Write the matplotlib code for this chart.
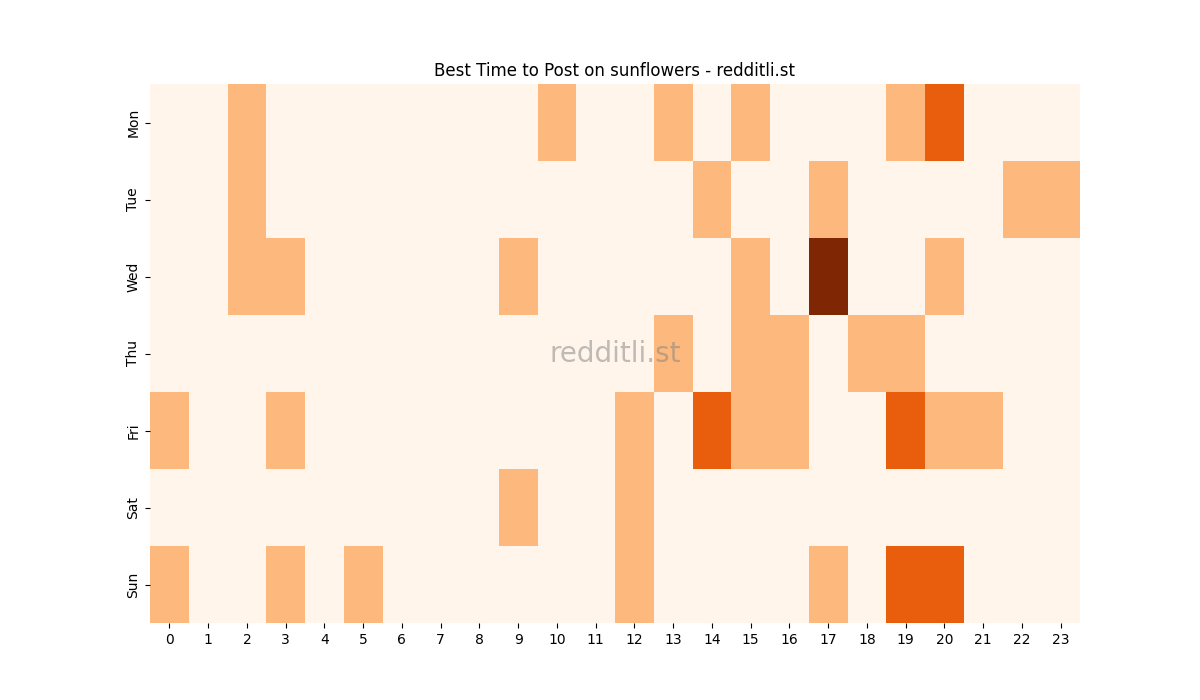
import matplotlib
matplotlib.use("Agg")
import matplotlib.pyplot as plt
import seaborn as sns
import numpy as np

days = ["Mon", "Tue", "Wed", "Thu", "Fri", "Sat", "Sun"]
hours = list(range(24))
mon = [0,0,1,0,0,0,0,0,0,0,1,0,0,1,0,1,0,0,0,1,2,0,0,0]
tue = [0,0,1,0,0,0,0,0,0,0,0,0,0,0,1,0,0,1,0,0,0,0,1,1]
wed = [0,0,1,1,0,0,0,0,0,1,0,0,0,0,0,1,0,3,0,0,1,0,0,0]
thu = [0,0,0,0,0,0,0,0,0,0,0,0,0,1,0,1,1,0,1,1,0,0,0,0]
fri = [1,0,0,1,0,0,0,0,0,0,0,0,1,0,2,1,1,0,0,2,1,1,0,0]
sat = [0,0,0,0,0,0,0,0,0,1,0,0,1,0,0,0,0,0,0,0,0,0,0,0]
sun = [1,0,0,1,0,1,0,0,0,0,0,0,1,0,0,0,0,1,0,2,2,0,0,0]
data = np.array([mon, tue, wed, thu, fri, sat, sun])

fig, ax = plt.subplots(figsize=(12, 7), dpi=100)
sns.heatmap(data, cmap="Oranges", cbar=False, ax=ax, xticklabels=hours, yticklabels=days, vmin=0, vmax=3)
ax.set_title("Best Time to Post on sunflowers - redditli.st")
ax.text(0.5, 0.5, "redditli.st", transform=ax.transAxes, ha="center", va="center",
        fontsize=20, color="gray", alpha=0.5)
fig.savefig("out.png")
